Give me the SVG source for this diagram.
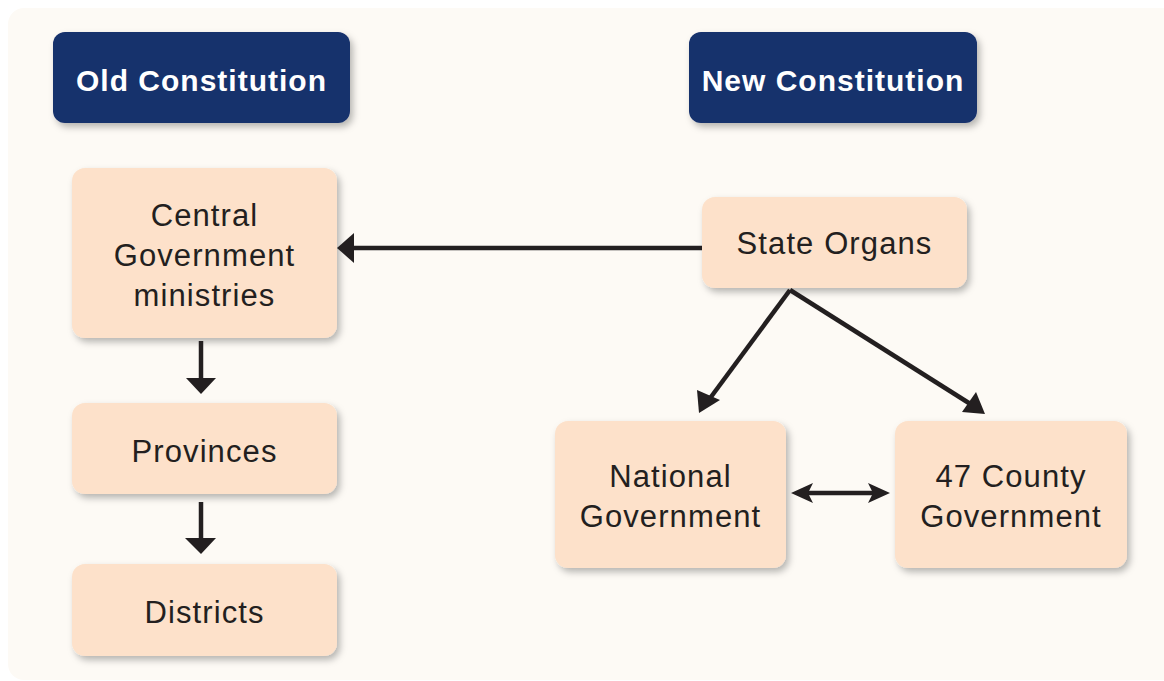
<svg xmlns="http://www.w3.org/2000/svg" width="1164" height="681" viewBox="0 0 1164 681">
  <style>
    .hdr { fill: #17316c; }
    .hdr-text { font-family: "Liberation Sans", Arial, sans-serif; font-weight: bold; font-size: 30px; letter-spacing: 1px; fill: #ffffff; text-anchor: middle; }
    .box { fill: #fde1ca; }
    .label { font-family: "Liberation Sans", Arial, sans-serif; font-size: 31px; letter-spacing: 1.1px; fill: #231f20; text-anchor: middle; }
    .conn { stroke: #231f20; stroke-width: 4.5; fill: none; }
    .head { fill: #231f20; }
  </style>
  <defs>
    <filter id="shadow" x="-10%" y="-10%" width="125%" height="130%">
      <feDropShadow dx="3" dy="4" stdDeviation="3.5" flood-color="#000000" flood-opacity="0.28"/>
    </filter>
  </defs>

  <!-- page background -->
  <rect x="0" y="0" width="1164" height="681" fill="#ffffff"/>
  <rect x="8" y="8" width="1170" height="672" rx="16" fill="#fdfaf5"/>

  <!-- column headers -->
  <g id="old-constitution">
    <rect class="hdr" x="53" y="32" width="297" height="91" rx="12" filter="url(#shadow)"/>
    <text class="hdr-text" x="201.5" y="91">Old Constitution</text>
  </g>
  <g id="new-constitution">
    <rect class="hdr" x="689" y="32" width="288" height="91" rx="12" filter="url(#shadow)"/>
    <text class="hdr-text" x="833" y="91">New Constitution</text>
  </g>

  <!-- old structure -->
  <g id="central-government">
    <rect class="box" x="72" y="168" width="265" height="170" rx="13" filter="url(#shadow)"/>
    <text class="label" x="204.5" y="226">Central</text>
    <text class="label" x="204.5" y="266">Government</text>
    <text class="label" x="204.5" y="306">ministries</text>
  </g>
  <g id="provinces">
    <rect class="box" x="72" y="403" width="265" height="91" rx="13" filter="url(#shadow)"/>
    <text class="label" x="204.5" y="462">Provinces</text>
  </g>
  <g id="districts">
    <rect class="box" x="72" y="564" width="265" height="92" rx="13" filter="url(#shadow)"/>
    <text class="label" x="204.5" y="623">Districts</text>
  </g>

  <!-- new structure -->
  <g id="state-organs">
    <rect class="box" x="702" y="197" width="265" height="91" rx="13" filter="url(#shadow)"/>
    <text class="label" x="834.5" y="254">State Organs</text>
  </g>
  <g id="national-government">
    <rect class="box" x="555" y="421" width="231" height="147" rx="13" filter="url(#shadow)"/>
    <text class="label" x="670.5" y="487">National</text>
    <text class="label" x="670.5" y="527">Government</text>
  </g>
  <g id="county-government">
    <rect class="box" x="895" y="421" width="232" height="147" rx="13" filter="url(#shadow)"/>
    <text class="label" x="1011" y="487">47 County</text>
    <text class="label" x="1011" y="527">Government</text>
  </g>

  <!-- connectors -->
  <g id="connectors">
    <!-- State Organs to Central Government -->
    <line class="conn" x1="702" y1="248" x2="350" y2="248"/>
    <polygon class="head" points="337,248 354,233 354,263"/>

    <!-- Central Government to Provinces -->
    <line class="conn" x1="201" y1="341" x2="201" y2="380"/>
    <polygon class="head" points="201,394 186,378 216,378"/>

    <!-- Provinces to Districts -->
    <line class="conn" x1="201" y1="502" x2="201" y2="540"/>
    <polygon class="head" points="201,554 185,538 216,538"/>

    <!-- State Organs to National / County -->
    <line class="conn" x1="790" y1="290" x2="708" y2="401"/>
    <polygon class="head" points="699,413 697,390 720,400"/>
    <line class="conn" x1="790" y1="290" x2="972" y2="405"/>
    <polygon class="head" points="985,414 962,412 976,392"/>

    <!-- National to County (two-way) -->
    <line class="conn" x1="805" y1="493" x2="876" y2="493"/>
    <polygon class="head" points="791,493 813,483 808,493 813,503"/>
    <polygon class="head" points="890,493 868,483 873,493 868,503"/>
  </g>
</svg>
